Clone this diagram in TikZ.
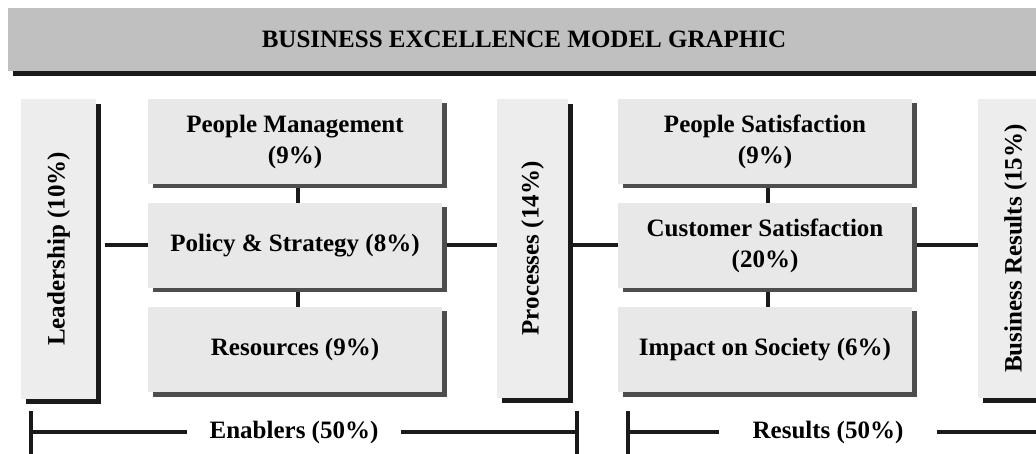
\documentclass[tikz,border=0pt]{standalone}
\usepackage{fontspec}
\setmainfont{Liberation Serif}
\usepackage{tikz}
\usetikzlibrary{shadows,backgrounds,positioning}
\definecolor{bargray}{HTML}{C0C0C0}
\definecolor{sidefill}{HTML}{EDEDED}
\definecolor{midfill}{HTML}{E8E8E8}
\definecolor{darkline}{HTML}{1A1A1A}
\definecolor{midshadow}{HTML}{4D4D4D}
\tikzset{
	every node/.append style={font=\fontsize{25}{31}\selectfont\bfseries, align=center},
	titlebar/.style = {
			rectangle, fill=bargray, inner sep=0pt,
			drop shadow={shadow xshift=4.5pt, shadow yshift=-5pt, fill=darkline, opacity=1},
		},
	sidebox/.style = {
			rectangle, fill=sidefill, inner sep=0pt,
			drop shadow={shadow xshift=4.5pt, shadow yshift=-5pt, fill=darkline, opacity=1},
		},
	midbox/.style = {
			rectangle, fill=midfill, inner sep=0pt,
			minimum width=294pt, minimum height=85pt,
			drop shadow={shadow xshift=4.5pt, shadow yshift=-4.5pt, fill=midshadow, opacity=1},
		},
	conn/.style = {draw=darkline, line width=4pt},
	brack/.style = {draw=darkline, line width=4pt},
}

\begin{document}
\begin{tikzpicture}[x=1pt, y=-1pt]
	\clip (0,0) rectangle (1036,454);

	\node[titlebar, minimum width=1032pt, minimum height=63pt] at (524,39.5) (title) {BUSINESS EXCELLENCE MODEL GRAPHIC};

	% enablers
	\node[sidebox, minimum width=75pt, minimum height=300pt] at (58.5,249) (lead) {\rotatebox{90}{Leadership (10\%)}};
	\node[midbox] at (295,141.5) (people) {People Management\\(9\%)};
	\node[midbox] at (295,245.5) (policy) {Policy \& Strategy (8\%)};
	\node[midbox] at (295,349.5) (resources) {Resources (9\%)};
	\node[sidebox, minimum width=71pt, minimum height=299pt] at (532.5,248.5) (processes) {\rotatebox{90}{Processes (14\%)}};

	% results
	\node[midbox] at (765,141.5) (peoplesat) {People Satisfaction\\(9\%)};
	\node[midbox] at (765,245.5) (customer) {Customer Satisfaction\\(20\%)};
	\node[midbox] at (765,349.5) (society) {Impact on Society (6\%)};
	\node[sidebox, minimum width=75pt, minimum height=299pt] at (1015.5,248.5) (business) {\rotatebox{90}{Business Results (15\%)}};

	\begin{scope}[on background layer]
		\draw[conn] ([xshift=3pt]people.south) -- ([xshift=3pt]policy.north);
		\draw[conn] ([xshift=3pt]policy.south) -- ([xshift=3pt]resources.north);
		\draw[conn] ([xshift=3pt]peoplesat.south) -- ([xshift=3pt]customer.north);
		\draw[conn] ([xshift=3pt]customer.south) -- ([xshift=3pt]society.north);
		\draw[conn, shorten <=9pt] (lead.east |- policy.west) -- (policy.west);
		\draw[conn] (policy.east) -- (processes.west |- policy.east);
		\draw[conn] (processes.east |- customer.west) -- (customer.west);
		\draw[conn] (customer.east) -- (business.west |- customer.east);
	\end{scope}

	% brackets
	\node[inner xsep=22pt] at (294,432) (enablers) {Enablers (50\%)};
	\node[inner xsep=33pt] at (828,432) (results) {Results (50\%)};
	\coordinate (enl) at (31,411);
	\coordinate (enr) at (577,411);
	\coordinate (rel) at (628,411);
	\coordinate (rer) at (1080,411);
	\draw[brack] (enl) -- ++(0,60);
	\draw[brack] (enr) -- ++(0,60);
	\draw[brack] (rel) -- ++(0,60);
	\draw[brack] (rer) -- ++(0,60);
	\draw[brack] (enl |- enablers.west) -- (enablers.west);
	\draw[brack] (enablers.east) -- (enr |- enablers.east);
	\draw[brack] (rel |- results.west) -- (results.west);
	\draw[brack] (results.east) -- (rer |- results.east);
\end{tikzpicture}
\end{document}
